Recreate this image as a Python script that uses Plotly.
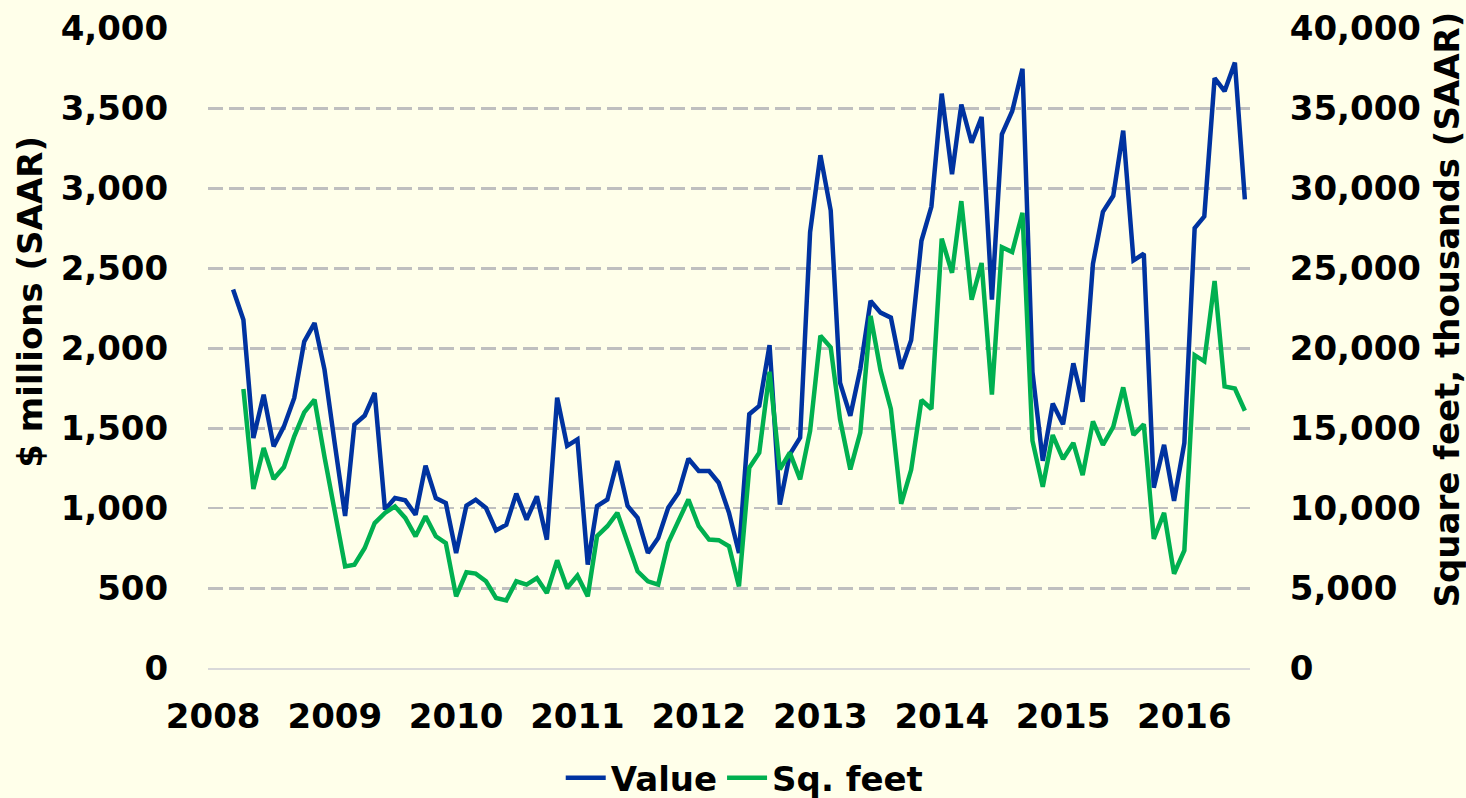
import pandas as pd
import plotly.graph_objects as go

# Monthly categories (Jan 2008 .. Jul 2016)
months = pd.date_range("2008-01-01", "2016-07-01", freq="MS")
value_months = months[2:]   # Value starts Mar 2008
sqft_months = months[3:]    # Sq. feet starts Apr 2008

# $ millions (SAAR)
value = [2365, 2177, 1437, 1708, 1385, 1510, 1688, 2040, 2156, 1865,
         1400, 950, 1521, 1578, 1719, 990, 1062, 1048, 958, 1265,
         1062, 1031, 719, 1015, 1052, 1000, 860, 896, 1090, 927,
         1073, 802, 1690, 1388, 1429, 646, 1012, 1053, 1294, 1012,
         939, 719, 813, 1001, 1095, 1308, 1231, 1231, 1158, 970,
         719, 1586, 1638, 2018, 1022, 1335, 1440, 2724, 3205, 2860,
         1784, 1576, 1868, 2294, 2221, 2190, 1870, 2048, 2670, 2884,
         3590, 3086, 3522, 3283, 3444, 2302, 3335, 3480, 3745, 1850,
         1295, 1653, 1523, 1904, 1664, 2526, 2851, 2951, 3359, 2548,
         2589, 1127, 1395, 1044, 1407, 2750, 2822, 3686, 3605, 3784,
         2929]

# Square feet, thousands (SAAR)
sqft = [17440, 11190, 13750, 11810, 12560, 14480, 15980, 16770, 13200, 9800,
        6350, 6460, 7500, 9060, 9690, 10100, 9380, 8230, 9480, 8230,
        7810, 4480, 5980, 5900, 5420, 4380, 4230, 5420, 5210, 5620,
        4690, 6730, 5000, 5770, 4480, 8240, 8860, 9700, 7920, 6040,
        5420, 5210, 7820, 9180, 10530, 8860, 8030, 7990, 7610, 5100,
        12520, 13460, 18510, 12410, 13460, 11790, 14820, 20770, 20040, 15550,
        12410, 14710, 22000, 18600, 16200, 10260, 12390, 16750, 16190, 26830,
        24700, 29180, 23020, 25310, 17090, 26300, 26000, 28450, 14200, 11330,
        14560, 13060, 14070, 12050, 15410, 13950, 15070, 17540, 14560, 15230,
        8070, 9700, 5890, 7350, 19550, 19170, 24190, 17600, 17470, 16080]

year_ticks = pd.date_range("2008-01-01", "2016-01-01", freq="YS")
year_labels = [str(d.year) for d in year_ticks]

left_ticks = [0, 500, 1000, 1500, 2000, 2500, 3000, 3500, 4000]
right_ticks = [0, 5000, 10000, 15000, 20000, 25000, 30000, 35000, 40000]

left_title = "$ millions (SAAR)"
right_title = "Square feet, thousands (SAAR)"

BLUE = "#0033A0"
GREEN = "#00B050"
BG = "#FFFFEA"
FONT = dict(family="DejaVu Sans, Verdana, sans-serif", size=34, color="black", weight="bold")

fig = go.Figure()
fig.add_trace(go.Scatter(x=value_months, y=value, name="Value", mode="lines",
                         line=dict(color=BLUE, width=4.5), yaxis="y"))
fig.add_trace(go.Scatter(x=sqft_months, y=sqft, name="Sq. feet", mode="lines",
                         line=dict(color=GREEN, width=4.5), yaxis="y2"))

fig.update_layout(
    width=1466, height=798,
    margin=dict(l=208, r=216, t=28, b=130, autoexpand=False),
    paper_bgcolor=BG, plot_bgcolor=BG,
    font=FONT,
    showlegend=True,
    legend=dict(orientation="h", xref="container", yref="container",
                x=0.508, xanchor="center", y=0.025, yanchor="middle",
                font=FONT, bgcolor="rgba(0,0,0,0)", itemwidth=40,
                entrywidthmode="pixels"),
    xaxis=dict(
        range=["2007-12-16 12:00", "2016-07-16 12:00"],
        tickvals=year_ticks, ticktext=year_labels,
        showgrid=False, zeroline=False,
        showline=True, linecolor="#D9D9D9", linewidth=2,
        ticks="outside", ticklen=17, tickcolor="rgba(0,0,0,0)",
        tickfont=FONT, automargin=False,
    ),
    yaxis=dict(
        range=[0, 4000], tickvals=left_ticks, tickformat=",",
        showgrid=True, gridcolor="#BFBFBF", gridwidth=3, griddash="15px,6px",
        zeroline=False, showline=False,
        ticks="outside", ticklen=32, tickcolor="rgba(0,0,0,0)",
        tickfont=FONT, automargin=False,
    ),
    yaxis2=dict(
        range=[0, 40000], tickvals=right_ticks, tickformat=",",
        overlaying="y", side="right",
        showgrid=False, zeroline=False, showline=False,
        ticks="outside", ticklen=32, tickcolor="rgba(0,0,0,0)",
        tickfont=FONT, automargin=False,
    ),
    annotations=[
        dict(text=left_title, textangle=-90, xref="paper", yref="paper",
             x=-0.1708, y=0.5725, xanchor="center", yanchor="middle",
             showarrow=False, font=FONT),
        dict(text=right_title, textangle=-90, xref="paper", yref="paper",
             x=1.189, y=0.560, xanchor="center", yanchor="middle",
             showarrow=False, font=FONT),
    ],
)

fig.write_html("out.html", config={"displayModeBar": False},
               post_script="document.body.style.margin='0px';")
